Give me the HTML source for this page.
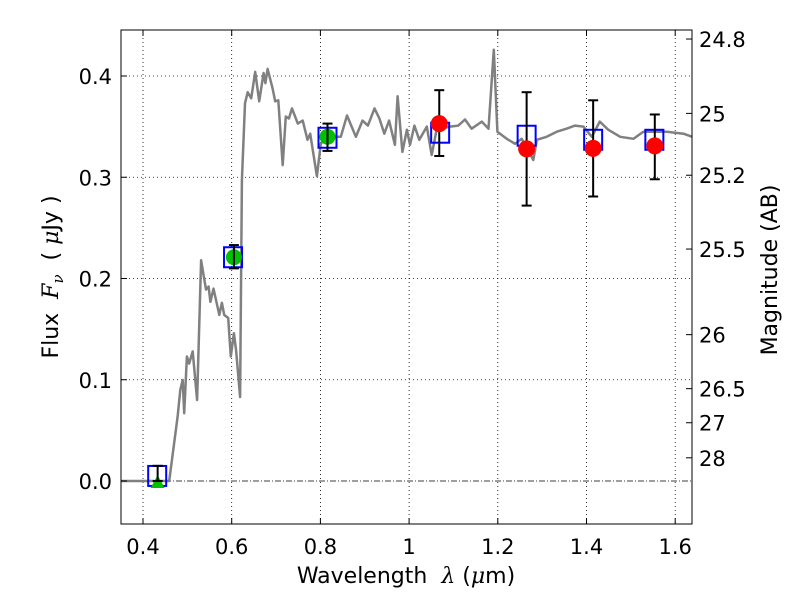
<!DOCTYPE html>
<html><head><meta charset="utf-8"><style>
html,body{margin:0;padding:0;background:#fff;}
svg text{font-family:"DejaVu Sans","Liberation Sans",sans-serif;fill:#000;}
</style></head><body>
<svg id="chart" width="800" height="600" xmlns="http://www.w3.org/2000/svg">
<rect width="800" height="600" fill="#fff"/>
<g id="grid"></g>
<g id="series"></g>
<rect x="121" y="30" width="571" height="494" fill="none" stroke="#000" stroke-width="1"/>
<g id="axes"></g>
<text x="406" y="583" font-size="22" text-anchor="middle" xml:space="preserve">Wavelength  <tspan font-style="italic" font-family="DejaVu Serif,serif">λ</tspan> (<tspan font-style="italic" font-family="DejaVu Serif,serif">μ</tspan>m)</text>
<text transform="translate(58,277) rotate(-90)" font-size="22" text-anchor="middle" xml:space="preserve">Flux  <tspan font-style="italic" font-family="DejaVu Serif,serif">F</tspan><tspan font-style="italic" font-family="DejaVu Serif,serif" font-size="15" dy="5">ν</tspan><tspan dy="-5">  ( </tspan><tspan font-style="italic" font-family="DejaVu Serif,serif">μ</tspan>Jy )</text>
<text transform="translate(777,270) rotate(-90)" font-size="22" text-anchor="middle">Magnitude (AB)</text>
</svg>
<script>
const xTicks=[0.4,0.6,0.8,1.0,1.2,1.4,1.6];
const xTickLabels=['0.4','0.6','0.8','1','1.2','1.4','1.6'];
const yTicks=[0.0,0.1,0.2,0.3,0.4];
const yTickLabels=['0.0','0.1','0.2','0.3','0.4'];
const magTicks=[24.8,25,25.2,25.5,26,26.5,27,28];
const magTickLabels=['24.8','25','25.2','25.5','26','26.5','27','28'];
const sedWave=[0.35,0.459,0.478,0.484,0.4895,0.493,0.499,0.504,0.512,0.522,0.531,0.542,0.548,0.552,0.559,0.572,0.578,0.583,0.592,0.598,0.605,0.610,0.619,0.623,0.630,0.636,0.644,0.653,0.662,0.672,0.676,0.681,0.692,0.698,0.705,0.715,0.722,0.729,0.736,0.749,0.760,0.771,0.777,0.792,0.801,0.813,0.846,0.860,0.880,0.895,0.907,0.922,0.933,0.944,0.955,0.968,0.974,0.985,0.995,1.002,1.012,1.023,1.040,1.051,1.062,1.092,1.111,1.126,1.141,1.164,1.179,1.191,1.199,1.220,1.239,1.254,1.280,1.288,1.310,1.333,1.355,1.374,1.393,1.412,1.430,1.449,1.476,1.506,1.528,1.581,1.619,1.638];
const sedFlux=[0,0,0.0635,0.090,0.0998,0.067,0.123,0.116,0.128,0.080,0.218,0.189,0.192,0.177,0.190,0.164,0.176,0.164,0.161,0.123,0.146,0.129,0.083,0.297,0.373,0.384,0.378,0.404,0.375,0.403,0.393,0.407,0.388,0.375,0.376,0.312,0.360,0.358,0.368,0.353,0.356,0.337,0.343,0.301,0.333,0.340,0.340,0.361,0.340,0.356,0.351,0.368,0.358,0.343,0.356,0.332,0.380,0.325,0.347,0.332,0.351,0.337,0.350,0.322,0.347,0.350,0.351,0.357,0.348,0.355,0.348,0.426,0.345,0.338,0.333,0.338,0.317,0.337,0.340,0.345,0.348,0.351,0.350,0.340,0.355,0.347,0.340,0.338,0.345,0.345,0.343,0.340];
const modelWave=[0.432,0.603,0.816,1.070,1.265,1.415,1.553];
const modelFlux=[0.005,0.221,0.339,0.344,0.341,0.337,0.337];
const greenWave=[0.605,0.816];
const greenFlux=[0.221,0.340];
const greenErrLo=[0.210,0.326];
const greenErrHi=[0.233,0.353];
const limitWave=[0.433];
const limitFlux=[0.0];
const limitErrHi=[0.015];
const redWave=[1.068,1.265,1.415,1.554];
const redFlux=[0.353,0.328,0.3285,0.331];
const redErrLo=[0.321,0.272,0.281,0.298];
const redErrHi=[0.386,0.384,0.376,0.362];

const NS='http://www.w3.org/2000/svg';
const L=121,R=692,T=30,B=524;
function X(w){return 143+(w-0.4)*443.5;}
function Y(f){return 481-f*1012.5;}
function magToFlux(m){return Math.pow(10,(23.9-m)/2.5);}
function mk(tag,attrs,parent){const e=document.createElementNS(NS,tag);for(const k in attrs)e.setAttribute(k,attrs[k]);parent.appendChild(e);return e;}
const grid=document.getElementById('grid'),axes=document.getElementById('axes'),series=document.getElementById('series');

xTicks.forEach((t,i)=>{
  const x=X(t);
  const g=mk('line',{x1:x,x2:x,y1:T,y2:B,stroke:'#000','stroke-width':0.8,'stroke-dasharray':'1,3'},grid);
  
  
  const a=mk('line',{x1:x,x2:x,y1:B,y2:B-6,stroke:'#000'},axes);
  
  
  const b=mk('line',{x1:x,x2:x,y1:T,y2:T+6,stroke:'#000'},axes);
  
  
  const tx=mk('text',{x:x,y:554,'font-size':21,'text-anchor':'middle'},axes);
  tx.textContent=xTickLabels[i];
  
  
});
yTicks.forEach((t,i)=>{
  const y=Y(t);
  if(t!==0){
    const g=mk('line',{x1:L,x2:R,y1:y,y2:y,stroke:'#000','stroke-width':0.8,'stroke-dasharray':'1,3'},grid);
    
    
  }
  const a=mk('line',{x1:L,x2:L+6,y1:y,y2:y,stroke:'#000'},axes);
  
  
  const tx=mk('text',{x:112,y:y+8,'font-size':21,'text-anchor':'end'},axes);
  tx.textContent=yTickLabels[i];
  
  
});
const zl=mk('line',{x1:L,x2:R,y1:Y(0),y2:Y(0),stroke:'#000','stroke-width':0.8,'stroke-dasharray':'6,2,1,2'},grid);


magTicks.forEach((m,i)=>{
  const y=Y(magToFlux(m));
  const a=mk('line',{x1:R,x2:R-6,y1:y,y2:y,stroke:'#000'},axes);
  
  
  const tx=mk('text',{x:699,y:y+8,'font-size':21,'text-anchor':'start'},axes);
  tx.textContent=magTickLabels[i];
  
  
});
let d='';
sedWave.forEach((w,i)=>{d+=(i?'L':'M')+X(w).toFixed(1)+','+Y(sedFlux[i]).toFixed(1);});
const sed=mk('path',{d:d,fill:'none',stroke:'#808080','stroke-width':2.5,'stroke-linejoin':'round'},series);


modelWave.forEach((w,i)=>{
  const s=mk('rect',{x:X(w)-9,y:Y(modelFlux[i])-10,width:18,height:20,fill:'none',stroke:'#0000ff','stroke-width':2},series);
  
  
});
function errbar(w,lo,hi,name){
  const x=X(w);
  const g=document.createElementNS(NS,'g');series.appendChild(g);
  
  
  mk('line',{x1:x,x2:x,y1:Y(lo),y2:Y(hi),stroke:'#000','stroke-width':2},g);
  mk('line',{x1:x-5,x2:x+5,y1:Y(lo),y2:Y(lo),stroke:'#000','stroke-width':2},g);
  mk('line',{x1:x-5,x2:x+5,y1:Y(hi),y2:Y(hi),stroke:'#000','stroke-width':2},g);
}
limitWave.forEach((w,i)=>{
  const x=X(w),y=Y(limitFlux[i]);
  const t=mk('polygon',{points:`${x-7},${y+7} ${x+7},${y+7} ${x},${y-6}`,fill:'#00c000'},series);
  
  
  errbar(w,limitFlux[i],limitErrHi[i],'limit-error-bar');
});
greenWave.forEach((w,i)=>{
  const c=mk('circle',{cx:X(w),cy:Y(greenFlux[i]),r:8,fill:'#00c000'},series);
  
  
  errbar(w,greenErrLo[i],greenErrHi[i],'green-error-bar');
});
redWave.forEach((w,i)=>{
  errbar(w,redErrLo[i],redErrHi[i],'red-error-bar');
  const c=mk('circle',{cx:X(w),cy:Y(redFlux[i]),r:8.5,fill:'#ff0000'},series);
  
  
});
</script>
</body></html>
